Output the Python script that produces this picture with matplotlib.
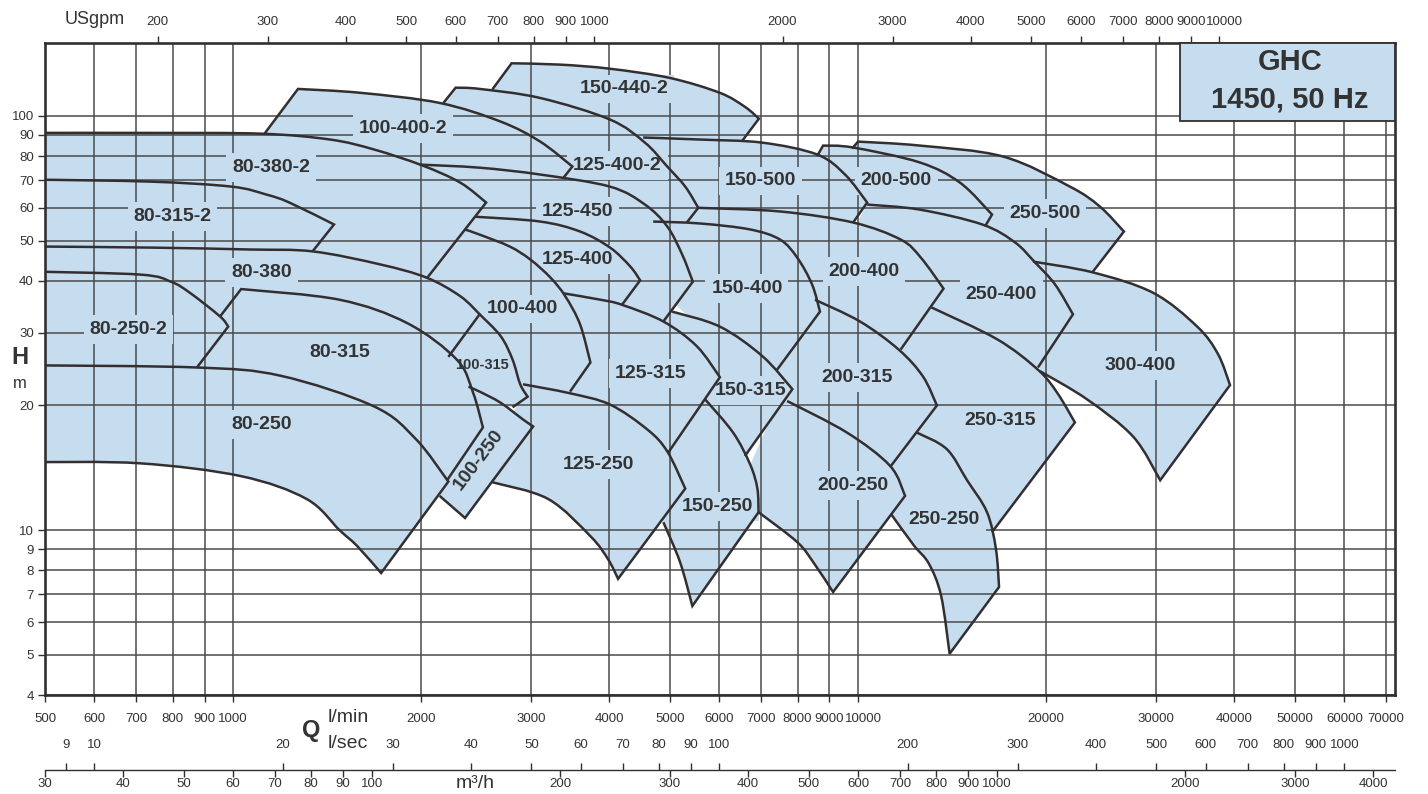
import numpy as np
import matplotlib
matplotlib.use("Agg")
import matplotlib.pyplot as plt
from matplotlib.path import Path
from matplotlib.patches import PathPatch, Rectangle
from matplotlib.ticker import NullLocator
from matplotlib.transforms import ScaledTranslation

plt.rcParams['font.family'] = ['Liberation Sans', 'DejaVu Sans']

FILL = '#c6ddf0'
INK = '#332f31'
GRID = '#4a4a4a'
TXT = '#333333'

# ---------------------------------------------------------------- axis ticks
lmin_ticks = [500, 600, 700, 800, 900, 1000, 2000, 3000, 4000, 5000, 6000,
              7000, 8000, 9000, 10000, 20000, 30000, 40000, 50000, 60000, 70000]
head_ticks = [4, 5, 6, 7, 8, 9, 10, 20, 30, 40, 50, 60, 70, 80, 90, 100]
usgpm_ticks = [200, 300, 400, 500, 600, 700, 800, 900, 1000, 2000, 3000,
               4000, 5000, 6000, 7000, 8000, 9000, 10000]
lsec_ticks = [9, 10, 20, 30, 40, 50, 60, 70, 80, 90, 100, 200, 300, 400,
              500, 600, 700, 800, 900, 1000]
m3h_ticks = [30, 40, 50, 60, 70, 80, 90, 100, 200, 300, 400, 500, 600, 700,
             800, 900, 1000, 2000, 3000, 4000]

# ---------------------------------------------------------------- pump ranges
# each range: optional left-edge lead, top curve (Q l/min, H m) ending at the
# tip, right edge, bottom curve back to the left, and a hidden tail that only
# closes the filled area
r150_440_2_lead = [(2600, 116)]
r150_440_2_top = [(2790, 134), (3340, 133), (4010, 130), (5000, 123.5), (6010, 113.7), (6590, 105.2), (6940, 98.5)]
r150_440_2_edge = [(6530, 87.2)]
r150_440_2_bottom = [(5590, 83.0), (4160, 87.7), (3100, 106.4)]

r125_400_2_lead = [(2170, 107.5)]
r125_400_2_top = [(2270, 117), (2480, 116.2), (3100, 110.5), (4010, 98.0), (4560, 86.2), (4950, 75.5), (5290, 67.5), (5550, 60.0)]
r125_400_2_edge = [(5320, 55.3)]
r125_400_2_bottom = [(4650, 53.2), (3870, 62.8), (2990, 70.2), (2310, 72.2)]

r100_400_2_lead = [(1120, 90.2)]
r100_400_2_top = [(1270, 116.2), (1600, 113.7), (2140, 107.5), (2680, 96.9), (3100, 86.7), (3490, 75.5)]
r100_400_2_edge = [(3380, 71.0)]
r100_400_2_bottom = [(2880, 68.3), (2220, 70.2), (1720, 76.3), (1280, 83.0)]

r80_380_2_top = [(480, 91), (740, 91), (1110, 90.6), (1430, 87.7), (1680, 83.0), (2010, 75.9), (2310, 69.0), (2540, 61.8)]
r80_380_2_edge = [(2040, 40.5)]
r80_380_2_bottom = [(1280, 44.5), (480, 44.5)]

r80_315_2_top = [(480, 70.2), (740, 69.4), (995, 67.5), (1130, 64.6), (1230, 61.8), (1450, 54.7)]
r80_315_2_edge = [(1340, 47.1)]
r80_315_2_bottom = [(885, 45.5), (480, 45.5)]

r125_450_top = [(1990, 76.3), (2480, 75.0), (3100, 72.2), (4010, 67.5), (4560, 61.1), (4950, 54.1), (5230, 46.3), (5440, 39.8)]
r125_450_edge = [(4880, 31.9)]
r125_450_bottom = [(4160, 33.2), (3340, 36.0), (2480, 47.6), (2070, 59.4)]

r125_400_top = [(2440, 57.1), (3100, 55.6), (3590, 52.6), (4010, 48.1), (4320, 43.3), (4480, 40.1)]
r125_400_edge = [(4190, 35.0)]
r125_400_bottom = [(3730, 36.0), (3100, 42.6), (2530, 51.7)]

r100_400_top = [(2350, 53.2), (2480, 51.7), (2770, 48.4), (2990, 45.0), (3220, 40.7), (3400, 36.7), (3590, 31.4), (3730, 25.4)]
r100_400_edge = [(3460, 21.6)]
r100_400_bottom = [(2990, 21.3), (2680, 27.3), (2400, 32.2), (2070, 40.3), (2180, 50.3)]

r125_315_top = [(3380, 37.3), (3870, 36.0), (4190, 35.0), (4880, 31.9), (5520, 27.8), (6010, 23.4)]
r125_315_edge = [(4970, 15.4)]
r125_315_bottom = [(4480, 16.6), (3870, 19.6), (3590, 21.0), (3400, 21.0), (3250, 24.6)]

r150_400_top = [(4700, 55.6), (5590, 55.0), (6720, 53.2), (7500, 50.3), (7990, 45.5), (8440, 39.2), (8690, 33.7)]
r150_400_edge = [(7420, 24.4)]
r150_400_bottom = [(6490, 27.3), (5590, 31.2), (5000, 36.0)]

r200_400_top = [(5550, 60.0), (7500, 58.8), (9820, 55.3), (11700, 50.3), (12600, 45.5), (13700, 38.3)]
r200_400_edge = [(11700, 27.3)]
r200_400_bottom = [(10070, 30.5), (8530, 36.0), (7780, 46.3), (6010, 54.4)]

r150_500_top = [(4530, 88.7), (5590, 87.7), (7030, 86.2), (8600, 80.7), (9530, 72.2), (10340, 61.8)]
r150_500_edge = [(9820, 55.3)]
r150_500_bottom = [(8070, 52.6), (6240, 52.0), (5430, 53.8), (4820, 70.2), (4740, 78.5)]

r200_500_lead = [(8600, 80)]
r200_500_top = [(8790, 84.8), (9820, 83.9), (12560, 77.2), (14560, 69.0), (16380, 57.8)]
r200_500_edge = [(15960, 54.1)]
r200_500_bottom = [(13050, 56.2), (10450, 58.8), (9020, 70.2)]

r250_500_lead = [(9780, 83.4)]
r250_500_top = [(10000, 86.7), (12560, 84.8), (17060, 79.8), (21830, 67.5), (24380, 60.4), (26630, 52.6)]
r250_500_edge = [(23760, 42.1)]
r250_500_bottom = [(19550, 42.6), (16260, 50.3), (13030, 62.8), (10450, 76.3)]

r250_400_top = [(10340, 61.1), (12560, 59.4), (15800, 54.7), (17830, 49.5), (19190, 44.3), (20660, 39.2), (22070, 33.2)]
r250_400_edge = [(19400, 24.7)]
r250_400_bottom = [(16880, 27.0), (14010, 31.9), (11700, 41.4), (9710, 51.7)]

r300_400_top = [(19050, 44.5), (23760, 41.9), (29670, 37.4), (34890, 31.0), (37670, 26.6), (39370, 22.4)]
r300_400_edge = [(30440, 13.2)]
r300_400_bottom = [(27570, 16.8), (23240, 20.7), (19550, 24.2)]

r80_380_top = [(480, 48.4), (740, 48.1), (1060, 47.6), (1340, 47.1), (1720, 43.8), (2040, 40.7), (2310, 36.7), (2480, 33.2)]
r80_380_edge = [(2210, 26.2)]
r80_380_bottom = [(1990, 29.7), (1280, 32.0), (900, 32.0), (480, 33.0)]

r80_250_2_top = [(480, 42.1), (710, 41.4), (795, 39.8), (853, 37.4), (953, 32.8), (982, 31.0)]
r80_250_2_edge = [(875, 24.7)]
r80_250_2_bottom = [(659, 24.2), (480, 24.2)]

r80_315_lead = [(953, 32.8)]
r80_315_top = [(1030, 38.2), (1480, 36.0), (1900, 31.6), (2280, 25.8), (2420, 21.5), (2510, 17.7)]
r80_315_edge = [(2200, 13.2)]
r80_315_bottom = [(1850, 17.5), (1280, 22.5), (826, 24.2)]

r100_315_top = [(2480, 33.2), (2680, 29.4), (2800, 25.8), (2880, 22.5), (2960, 21.0)]
r100_315_edge = [(2800, 19.8)]
r100_315_bottom = [(2480, 21.0), (2270, 24.6), (2220, 26.6)]

r80_250_top = [(480, 25.0), (875, 24.7), (1190, 23.6), (1680, 19.9), (1960, 16.6), (2210, 13.1)]
r80_250_edge = [(1725, 7.88)]
r80_250_bottom = [(1580, 9.15), (1480, 10.0), (1310, 11.9), (1030, 13.5), (710, 14.5), (480, 14.6)]

r100_250_top = [(2380, 22.2), (2480, 21.6), (2680, 20.3), (2910, 18.5), (3020, 17.8)]
r100_250_edge = [(2350, 10.7)]
r100_250_bottom = [(2140, 12.1)]

r125_250_top = [(2910, 22.5), (3460, 21.4), (4010, 20.1), (4600, 17.5), (4950, 15.5), (5290, 12.6)]
r125_250_edge = [(4130, 7.63)]
r125_250_bottom = [(3980, 8.51), (3730, 9.67), (3190, 11.9), (2600, 13.05)]

r150_315_top = [(5040, 33.7), (6010, 31.0), (7030, 26.3), (7850, 21.9)]
r150_315_edge = [(6590, 15.1)]
r150_315_bottom = [(6010, 16.6), (5590, 20.7), (5190, 28.9), (4800, 31.0)]

r150_250_top = [(5690, 20.7), (6310, 17.2), (6720, 14.4), (6900, 12.6), (6930, 11.05)]
r150_250_edge = [(5430, 6.56)]
r150_250_bottom = [(5190, 8.37), (4880, 10.45)]
r150_250_tail = [(4740, 14.0), (5190, 18.0)]

r200_315_top = [(8530, 36.0), (10070, 31.9), (11610, 27.3), (12700, 23.5), (13370, 20.0)]
r200_315_edge = [(11250, 14.2)]
r200_315_bottom = [(9710, 16.6), (8380, 18.5), (7640, 20.1), (7370, 24.2), (8070, 34.2)]

r200_250_top = [(7700, 20.5), (9600, 17.2), (11250, 14.3), (11890, 12.1)]
r200_250_edge = [(9120, 7.09)]
r200_250_bottom = [(8510, 8.30), (7990, 9.36), (6930, 11.05)]
r200_250_tail = [(6670, 14.0), (7230, 18.5)]

r250_315_top = [(13100, 34.5), (16690, 28.9), (19400, 24.4), (20810, 21.5), (22230, 18.2)]
r250_315_edge = [(16380, 9.89)]
r250_315_bottom = [(14560, 13.2), (13280, 15.7), (12110, 17.5), (12340, 22.5), (11460, 26.6), (12840, 35.0)]

r250_250_top = [(12420, 17.2), (13860, 15.7), (14940, 13.2), (16080, 11.05), (16620, 9.0), (16810, 7.29)]
r250_250_edge = [(14010, 5.03)]
r250_250_bottom = [(13580, 6.94), (12980, 8.30), (12280, 9.19), (11310, 10.9)]
r250_250_tail = [(11000, 13.2), (11890, 16.6)]

# ---------------------------------------------------------------- range labels
label_names = ["150-440-2", "100-400-2", "125-400-2", "80-380-2", "150-500", "200-500",
               "250-500", "80-315-2", "125-450", "80-380", "125-400", "150-400",
               "200-400", "250-400", "80-250-2", "100-400", "80-315", "100-315",
               "125-315", "150-315", "200-315", "300-400", "80-250", "250-315",
               "100-250", "125-250", "150-250", "200-250", "250-250"]
label_q = [4220, 1870, 4120, 1150, 6970, 11510, 19910, 800, 3560, 1110, 3560, 6640,
           10220, 16940, 680, 2900, 1480, 2500, 4650, 6720, 9960, 28290, 1110, 16880,
           2470, 3840, 5950, 9820, 13730]
label_h = [116.2, 93.2, 75.9, 75.0, 69.7, 69.7, 58.1, 57.1, 58.8, 41.9, 45.0, 38.3,
           42.1, 37.0, 30.5, 34.2, 26.9, 25.1, 23.9, 21.7, 23.4, 25.0, 18.0, 18.4,
           14.8, 14.4, 11.4, 12.8, 10.6]

# (lead, top, edge, bottom, bottom drawn as outline, hidden tail)
ranges = [
    ([], r80_250_top, r80_250_edge, r80_250_bottom, True, []),
    ([], r80_250_2_top, r80_250_2_edge, r80_250_2_bottom, False, []),
    (r80_315_lead, r80_315_top, r80_315_edge, r80_315_bottom, False, []),
    ([], r80_380_top, r80_380_edge, r80_380_bottom, False, []),
    ([], r80_315_2_top, r80_315_2_edge, r80_315_2_bottom, False, []),
    ([], r80_380_2_top, r80_380_2_edge, r80_380_2_bottom, False, []),
    (r100_400_2_lead, r100_400_2_top, r100_400_2_edge, r100_400_2_bottom, False, []),
    (r125_400_2_lead, r125_400_2_top, r125_400_2_edge, r125_400_2_bottom, False, []),
    (r150_440_2_lead, r150_440_2_top, r150_440_2_edge, r150_440_2_bottom, False, []),
    ([], r125_450_top, r125_450_edge, r125_450_bottom, False, []),
    ([], r125_400_top, r125_400_edge, r125_400_bottom, False, []),
    ([], r100_400_top, r100_400_edge, r100_400_bottom, False, []),
    ([], r100_315_top, r100_315_edge, r100_315_bottom, False, []),
    ([], r100_250_top, r100_250_edge, r100_250_bottom, True, []),
    ([], r125_315_top, r125_315_edge, r125_315_bottom, False, []),
    ([], r125_250_top, r125_250_edge, r125_250_bottom, True, []),
    ([], r150_500_top, r150_500_edge, r150_500_bottom, False, []),
    ([], r150_400_top, r150_400_edge, r150_400_bottom, False, []),
    ([], r150_315_top, r150_315_edge, r150_315_bottom, False, []),
    ([], r150_250_top, r150_250_edge, r150_250_bottom, True, r150_250_tail),
    (r200_500_lead, r200_500_top, r200_500_edge, r200_500_bottom, False, []),
    ([], r200_400_top, r200_400_edge, r200_400_bottom, False, []),
    ([], r200_315_top, r200_315_edge, r200_315_bottom, False, []),
    ([], r200_250_top, r200_250_edge, r200_250_bottom, True, r200_250_tail),
    (r250_500_lead, r250_500_top, r250_500_edge, r250_500_bottom, False, []),
    ([], r250_400_top, r250_400_edge, r250_400_bottom, False, []),
    ([], r250_315_top, r250_315_edge, r250_315_bottom, False, []),
    ([], r250_250_top, r250_250_edge, r250_250_bottom, True, r250_250_tail),
    ([], r300_400_top, r300_400_edge, r300_400_bottom, True, []),
]


def smooth(points):
    """Cubic Bezier pieces of a Catmull-Rom curve through points (log-log space)."""
    L = np.log10(np.asarray(points, dtype=float))
    n = len(L)
    if n == 2:
        return [L[1]], [Path.LINETO]
    verts, codes = [], []
    for i in range(n - 1):
        p0 = L[i - 1] if i > 0 else L[i]
        p1, p2 = L[i], L[i + 1]
        p3 = L[i + 2] if i + 2 < n else L[i + 1]
        verts += [p1 + (p2 - p0) / 6.0, p2 - (p3 - p1) / 6.0, p2]
        codes += [Path.CURVE4] * 3
    return verts, codes


def range_path(lead, top, edge, bottom, tail, with_bottom, closed):
    pts = list(lead) + [top[0]]
    verts = [np.log10(pts[0])]
    codes = [Path.MOVETO]
    for p in pts[1:]:
        verts.append(np.log10(p))
        codes.append(Path.LINETO)
    v, c = smooth(top)
    verts += v
    codes += c
    for p in edge:
        verts.append(np.log10(p))
        codes.append(Path.LINETO)
    if with_bottom:
        v, c = smooth([edge[-1]] + list(bottom))
        verts += v
        codes += c
    if closed:
        for p in tail:
            verts.append(np.log10(p))
            codes.append(Path.LINETO)
        verts.append(verts[0])
        codes.append(Path.CLOSEPOLY)
    return Path(10 ** np.array(verts), codes)


# ---------------------------------------------------------------- figure
W, H = 1428, 794
fig = plt.figure(figsize=(W / 100, H / 100), dpi=100)
ax = fig.add_axes([45 / W, 1 - 695 / H, 1350 / W, 652 / H])
ax.set_xscale('log')
ax.set_yscale('log')
ax.set_xlim(500, 72300)
ax.set_ylim(4, 150)

for lead, top, edge, bottom, vis, tail in ranges:
    ax.add_patch(PathPatch(range_path(lead, top, edge, bottom, tail, True, True),
                           fc=FILL, ec='none', lw=0, zorder=1))
for lead, top, edge, bottom, vis, tail in ranges:
    ax.add_patch(PathPatch(range_path(lead, top, edge, bottom, tail, vis, False),
                           fill=False, ec=INK, lw=1.8, joinstyle='miter',
                           capstyle='butt', zorder=3))

for name, q, h in zip(label_names, label_q, label_h):
    size = 10.5 if name == "100-315" else 14
    rot = 53 if name == "100-250" else 0
    ax.text(q, h, name, ha='center', va='center', fontsize=size, fontweight='bold',
            color=FILL, rotation=rot, zorder=2,
            bbox=dict(boxstyle='square,pad=0.3', fc=FILL, ec='none'))
    ax.text(q, h, name, ha='center', va='center', fontsize=size, fontweight='bold',
            color=TXT, rotation=rot, zorder=4)

# grid, ticks, spines
ax.set_axisbelow('line')
ax.set_xticks(lmin_ticks, [str(v) for v in lmin_ticks])
ax.set_yticks(head_ticks, [str(v) for v in head_ticks])
ax.xaxis.set_minor_locator(NullLocator())
ax.yaxis.set_minor_locator(NullLocator())
ax.grid(True, which='major', color=GRID, lw=1.1)
ax.tick_params(axis='x', direction='out', length=5, width=1, color=INK,
               labelsize=9.5, labelcolor=TXT, pad=8)
ax.tick_params(axis='y', direction='out', length=5, width=1, color=INK,
               labelsize=9.5, labelcolor=TXT, pad=3)
for s in ax.spines.values():
    s.set_linewidth(1.9)
    s.set_color(INK)
    s.set_zorder(5)

GPM = 3.785411784
sec_top = ax.secondary_xaxis('top', functions=(lambda q: q / GPM, lambda g: g * GPM))
sec_top.set_xticks(usgpm_ticks, [str(v) for v in usgpm_ticks])
sec_top.xaxis.set_minor_locator(NullLocator())
sec_top.tick_params(direction='out', length=5, width=1, color=INK, labelsize=9.5,
                    labelcolor=TXT, pad=6)
sec_top.spines['top'].set_visible(False)

loc = (695 - 770) / 652
sec_ls = ax.secondary_xaxis(loc, functions=(lambda q: q / 60.0, lambda s: s * 60.0))
sec_ls.set_alignment('top')
sec_ls.set_xticks(lsec_ticks, [str(v) for v in lsec_ticks])
sec_ls.xaxis.set_minor_locator(NullLocator())
sec_ls.tick_params(direction='out', length=5, width=1, color=INK, labelsize=9.5,
                   labelcolor=TXT, pad=9)
sec_ls.spines['top'].set_visible(False)

sec_m3 = ax.secondary_xaxis(loc, functions=(lambda q: q * 0.06, lambda m: m / 0.06))
sec_m3.set_alignment('bottom')
sec_m3.set_xticks(m3h_ticks, [str(v) for v in m3h_ticks])
sec_m3.xaxis.set_minor_locator(NullLocator())
sec_m3.tick_params(direction='out', length=5, width=1, color=INK, labelsize=9.5,
                   labelcolor=TXT, pad=0.5)
sec_m3.spines['bottom'].set_linewidth(1.0)
sec_m3.spines['bottom'].set_color(INK)

# the crowded "10000" labels sit a little right of their tick, as printed
nudge = ScaledTranslation(4 / 72, 0, fig.dpi_scale_trans)
for axis in (ax.xaxis, sec_top.xaxis):
    for tick in axis.get_major_ticks():
        for lab in (tick.label1, tick.label2):
            if lab.get_text() == '10000':
                lab.set_transform(lab.get_transform() + nudge)


# axis captions
def fig_text(x, y, s, **kw):
    fig.text(x / W, 1 - y / H, s, ha='center', va='center', color=TXT, **kw)


fig_text(20, 357, 'H', fontsize=17, fontweight='bold')
fig_text(20, 383, 'm', fontsize=12)
fig_text(311, 731, 'Q', fontsize=17, fontweight='bold')
fig_text(348, 718, 'l/min', fontsize=14)
fig_text(348, 744, 'l/sec', fontsize=14)
fig_text(475, 784, 'm³/h', fontsize=14)
fig_text(95, 20, 'USgpm', fontsize=13)

# title box
ax.add_patch(Rectangle((0.8407, 0.8804), 0.1593, 0.1196, transform=ax.transAxes,
                       fc=FILL, ec=INK, lw=1.3, zorder=6, clip_on=False))
ax.text(0.9222, 0.9709, 'GHC', transform=ax.transAxes, ha='center', va='center',
        fontsize=21, fontweight='bold', color=TXT, zorder=7)
ax.text(0.9222, 0.9126, '1450, 50 Hz', transform=ax.transAxes, ha='center',
        va='center', fontsize=21, fontweight='bold', color=TXT, zorder=7)

fig.savefig('out.png', dpi=100)
